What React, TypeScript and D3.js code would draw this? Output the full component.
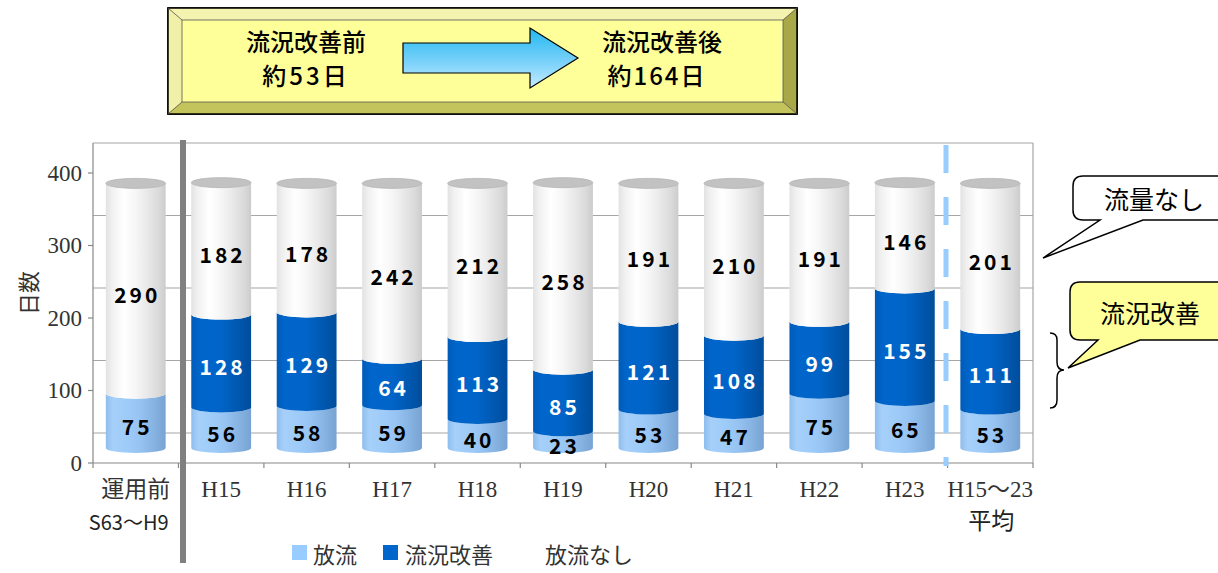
import React from "react";
import * as d3 from "d3";

const categories = ["運用前|S63〜H9", "H15", "H16", "H17", "H18", "H19", "H20", "H21", "H22", "H23", "H15〜23|平均"];
const houryu = [75, 56, 58, 59, 40, 23, 53, 47, 75, 65, 53];
const kaizen = [0, 128, 129, 64, 113, 85, 121, 108, 99, 155, 111];
const nashi = [290, 182, 178, 242, 212, 258, 191, 210, 191, 146, 201];
const yTicks = [0, 100, 200, 300, 400];
const seriesNames = ["放流", "流況改善", "放流なし"];

const W = 1218, H = 573;
const WALL = -30, BAR = -15;
const RY = 5;

export default function App() {
  const x = d3.scaleBand<string>().domain(categories).range([93, 1033]).paddingInner(0.3).paddingOuter(0.15);
  const y = d3.scaleLinear().domain([0, 400]).range([463, 173]);
  const step = x.step();
  const bw = x.bandwidth();
  const rx = bw / 2;

  const series = [
    { name: seriesNames[0], values: houryu, grad: "gLight", text: "#000" },
    { name: seriesNames[1], values: kaizen, grad: "gBlue", text: "#fff" },
    { name: seriesNames[2], values: nashi, grad: "gWhite", text: "#000" },
  ];

  const segPath = (x0: number, x1: number, yt: number, yb: number) =>
    `M${x0},${yt} A${rx},${RY} 0 0 0 ${x1},${yt} L${x1},${yb} A${rx},${RY} 0 0 1 ${x0},${yb} Z`;

  const labelFont = "'Noto Sans CJK JP', sans-serif";
  const serif = "'Liberation Serif', 'Noto Sans CJK JP', serif";

  return (
    <svg width={W} height={H} style={{ position: "absolute", left: 0, top: 0, background: "#fff" }}>
      <defs>
        <linearGradient id="gLight" x1="0" x2="1" y1="0" y2="0">
          <stop offset="0" stopColor="#8fbdec" />
          <stop offset="0.12" stopColor="#a6d0fa" />
          <stop offset="0.35" stopColor="#9ecbf8" />
          <stop offset="0.55" stopColor="#97c4f2" />
          <stop offset="0.8" stopColor="#86b3e2" />
          <stop offset="1" stopColor="#78a3d2" />
        </linearGradient>
        <linearGradient id="gBlue" x1="0" x2="1" y1="0" y2="0">
          <stop offset="0" stopColor="#005bb8" />
          <stop offset="0.15" stopColor="#0066cc" />
          <stop offset="0.5" stopColor="#0064c8" />
          <stop offset="0.8" stopColor="#0057ae" />
          <stop offset="1" stopColor="#004d9c" />
        </linearGradient>
        <linearGradient id="gWhite" x1="0" x2="1" y1="0" y2="0">
          <stop offset="0" stopColor="#e2e2e2" />
          <stop offset="0.1" stopColor="#f0f0f0" />
          <stop offset="0.3" stopColor="#ffffff" />
          <stop offset="0.5" stopColor="#f6f6f6" />
          <stop offset="0.7" stopColor="#e8e8e8" />
          <stop offset="0.88" stopColor="#dadada" />
          <stop offset="1" stopColor="#cccccc" />
        </linearGradient>
        <linearGradient id="gArrow" x1="0" x2="0" y1="0" y2="1">
          <stop offset="0" stopColor="#22b8f0" />
          <stop offset="0.6" stopColor="#7fd3fa" />
          <stop offset="1" stopColor="#c6ecff" />
        </linearGradient>
      </defs>

      {/* Title box */}
      <g>
        <rect x={168} y={8} width={629} height={106} fill="#d8d870" stroke="#000" strokeWidth={1.5} />
        <polygon points="168,8 797,8 783,20 182,20" fill="#f4f4b0" />
        <polygon points="168,8 182,20 182,102 168,114" fill="#f0f0a8" />
        <polygon points="797,8 797,114 783,102 783,20" fill="#a8a848" />
        <polygon points="168,114 797,114 783,102 182,102" fill="#c4c45c" />
        <rect x={168} y={8} width={629} height={106} fill="none" stroke="#000" strokeWidth={1.5} />
        <rect x={182} y={20} width={601} height={82} fill="#ffff99" stroke="#555" strokeWidth={0.8} />
        <line x1={168} y1={8} x2={182} y2={20} stroke="#555" strokeWidth={0.8} />
        <line x1={797} y1={8} x2={783} y2={20} stroke="#555" strokeWidth={0.8} />
        <line x1={168} y1={114} x2={182} y2={102} stroke="#555" strokeWidth={0.8} />
        <line x1={797} y1={114} x2={783} y2={102} stroke="#555" strokeWidth={0.8} />
        <g fontFamily={labelFont} fontSize={24} fontWeight={500} textAnchor="middle" dominantBaseline="central">
          <text x={306} y={40}>流況改善前</text>
          <text x={306} y={74} letterSpacing={3}>約53日</text>
          <text x={662} y={40}>流況改善後</text>
          <text x={657} y={74} letterSpacing={2}>約164日</text>
        </g>
        <polygon points="403,43 530,43 530,28 578,58 530,88 530,73 403,73" fill="url(#gArrow)" stroke="#000" strokeWidth={1.2} />
      </g>

      {/* Back wall & grid */}
      <g stroke="#a6a6a6" strokeWidth={1.2}>
        {yTicks.map((t) => (
          <line key={t} x1={93} x2={1033} y1={y(t) + WALL} y2={y(t) + WALL} />
        ))}
        <line x1={1033} x2={1033} y1={y(400) + WALL} y2={y(0)} />
        <line x1={93} x2={93} y1={y(400) + WALL} y2={y(0)} stroke="#888" />
        <line x1={93} x2={1033} y1={y(0)} y2={y(0)} stroke="#888" />
      </g>
      {/* y ticks */}
      <g>
        {yTicks.map((t) => (
          <g key={t}>
            <line x1={88} x2={93} y1={y(t)} y2={y(t)} stroke="#888" strokeWidth={1.2} />
            <text x={82} y={y(t)} textAnchor="end" dominantBaseline="central" fontFamily={serif} fontSize={23} fill="#333">{t}</text>
          </g>
        ))}
        {d3.range(categories.length + 1).map((i) => (
          <line key={i} x1={93 + i * step} x2={93 + i * step} y1={y(0)} y2={y(0) + 5} stroke="#888" strokeWidth={1.2} />
        ))}
      </g>
      <text transform="translate(27,293) rotate(-90)" textAnchor="middle" dominantBaseline="central" fontFamily={labelFont} fontSize={22} fill="#333">日数</text>

      {/* Bars */}
      {categories.map((c, i) => {
        const x0 = x(c)!;
        const x1 = x0 + bw;
        const cx = x0 + rx;
        let acc = 0;
        const segs = series.map((s) => {
          const v = s.values[i];
          const a = acc;
          acc += v;
          return { s, v, a, b: acc };
        });
        return (
          <g key={c}>
            {segs.filter((d) => d.v > 0).map((d) => (
              <path key={d.s.name} d={segPath(x0, x1, y(d.b) + BAR, y(d.a) + BAR)} fill={`url(#${d.s.grad})`} />
            ))}
            <ellipse cx={cx} cy={y(acc) + BAR} rx={rx} ry={RY} fill="#c2c2c2" stroke="#b4b4b4" strokeWidth={0.8} />
            {segs.filter((d) => d.v > 0).map((d) => (
              <text key={"t" + d.s.name} x={cx + 1.5} y={y((d.a + d.b) / 2) + BAR + 5} textAnchor="middle" dominantBaseline="central"
                fontFamily={labelFont} fontWeight={700} fontSize={21} letterSpacing={3} fill={d.s.text}>{d.v}</text>
            ))}
          </g>
        );
      })}

      {/* Category labels */}
      {categories.map((c) => {
        const parts = c.split("|");
        const cx = x(c)! + rx;
        return (
          <g key={"l" + c}>
            <text x={cx} y={489} textAnchor="middle" dominantBaseline="central" fontFamily={serif} fontSize={23} fill="#333">{parts[0]}</text>
            {parts[1] && (
              <text x={cx - (parts[1] === "平均" ? -1 : 7)} y={521} textAnchor="middle" dominantBaseline="central"
                fontFamily={parts[1] === "平均" ? serif : labelFont} fontSize={parts[1] === "平均" ? 23 : 20} fill="#222">{parts[1]}</text>
            )}
          </g>
        );
      })}

      {/* Separator lines */}
      <rect x={180} y={140} width={6} height={423} fill="#808080" />
      <line x1={946} x2={946} y1={145} y2={466} stroke="#99ccff" strokeWidth={5} strokeDasharray="28 24" />

      {/* Legend */}
      <g fontFamily={labelFont} fontSize={22} fill="#333">
        <rect x={292} y={545} width={15} height={15} fill="#99ccff" />
        <text x={313} y={553} dominantBaseline="central">{seriesNames[0]}</text>
        <rect x={383} y={545} width={15} height={15} fill="#0066cc" />
        <text x={405} y={553} dominantBaseline="central">{seriesNames[1]}</text>
        <text x={545} y={553} dominantBaseline="central">{seriesNames[2]}</text>
      </g>

      {/* Callouts */}
      <g>
        <path d="M1083,176 L1240,176 L1240,220 L1143,220 L1043,258 L1100,220 L1083,220 Q1073,220 1073,210 L1073,186 Q1073,176 1083,176 Z"
          fill="#fff" stroke="#000" strokeWidth={1.5} />
        <text x={1104} y={198} dominantBaseline="central" fontFamily={labelFont} fontSize={25} fill="#000">流量なし</text>
        <path d="M1080,282 L1240,282 L1240,340 L1140,340 L1068,368 L1098,340 L1080,340 Q1070,340 1070,330 L1070,292 Q1070,282 1080,282 Z"
          fill="#ffff99" stroke="#000" strokeWidth={1.5} />
        <text x={1100} y={312} dominantBaseline="central" fontFamily={labelFont} fontSize={25} fill="#000">流況改善</text>
        <path d="M1050,333 Q1057,333 1057,340 L1057,362 Q1057,370 1064,370 Q1057,370 1057,378 L1057,400 Q1057,408 1050,408"
          fill="none" stroke="#000" strokeWidth={1.5} />
      </g>
    </svg>
  );
}
